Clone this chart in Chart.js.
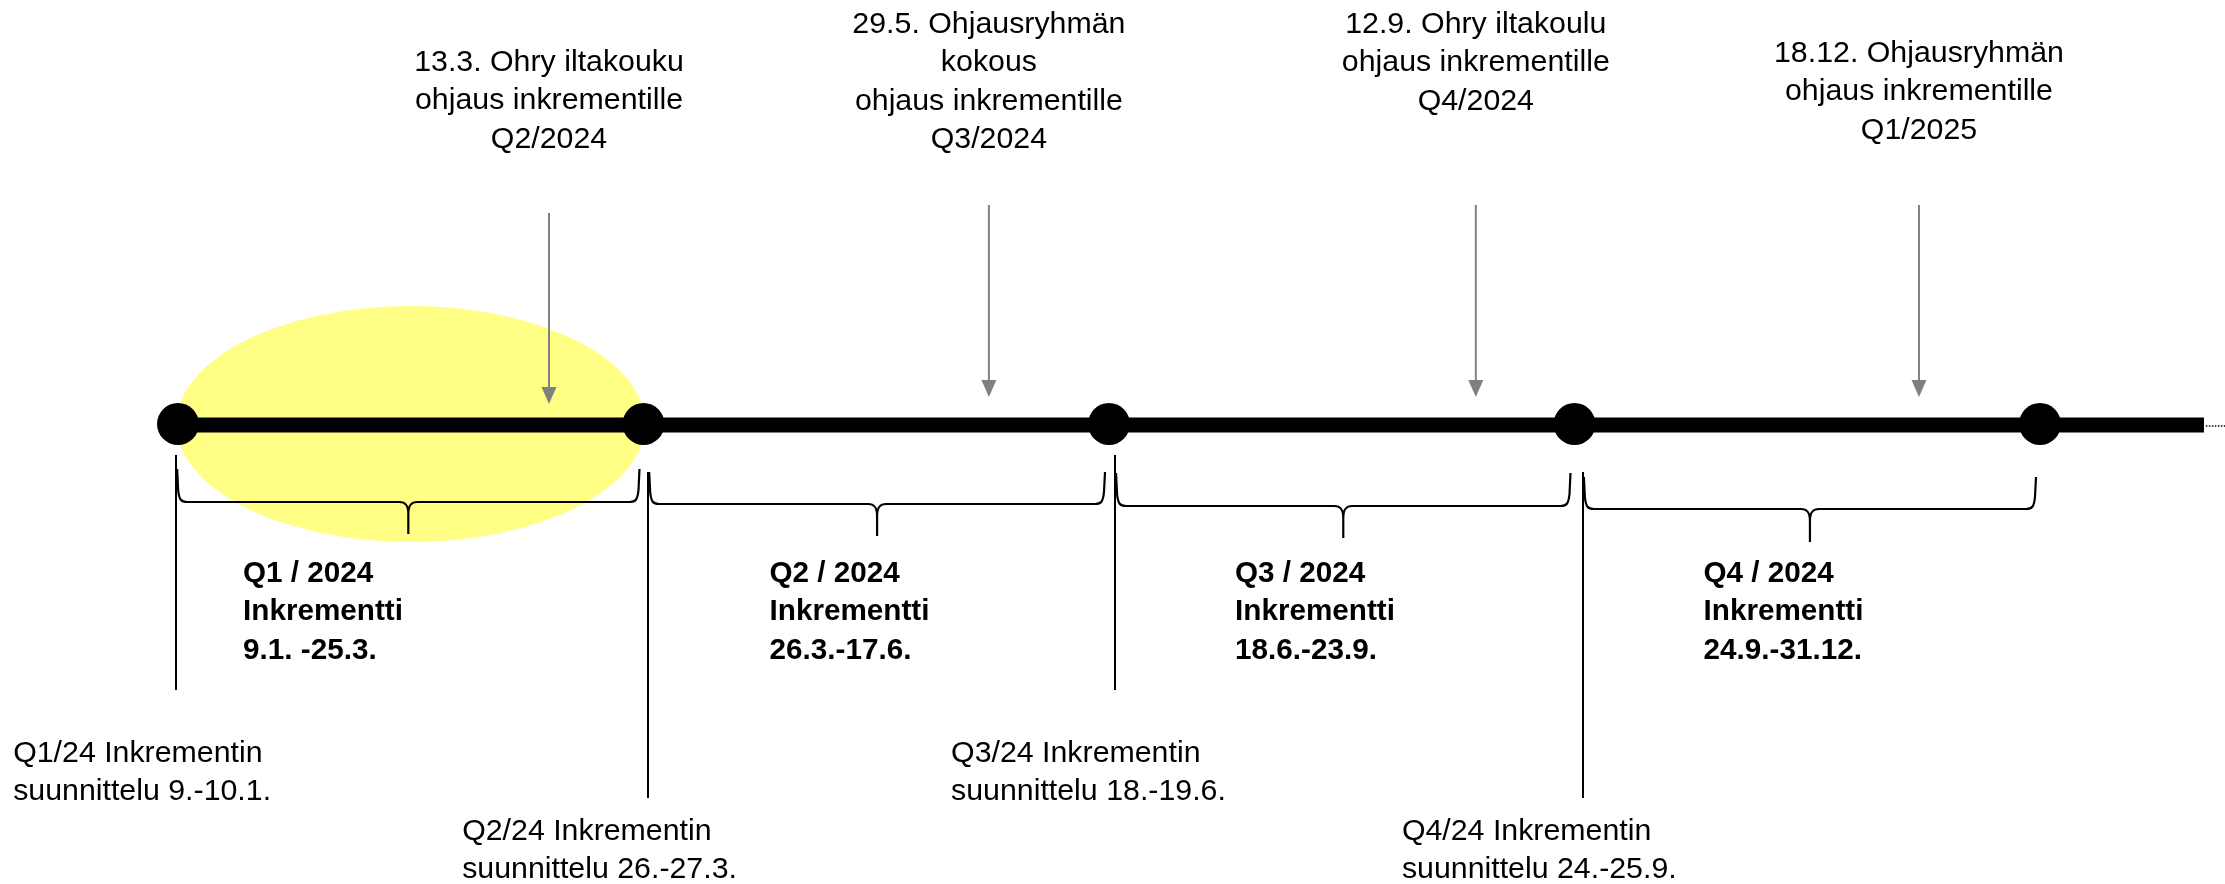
<!DOCTYPE html>
<html>
<head>
<meta charset="utf-8">
<script src="https://cdn.jsdelivr.net/npm/chart.js@4.4.1/dist/chart.umd.min.js"></script>
<style>
  html, body { margin: 0; padding: 0; background: #fff; }
  #wrap { width: 2225px; height: 884px; }
</style>
</head>
<body>
<div id="wrap"><canvas id="timeline" width="2225" height="884"></canvas></div>
<script>
// --- data: timeline in quarter units (0 = start of Q1/2024) ---
const milestoneQ = [0, 1, 2, 3, 4];
const increments = ['Q1 / 2024', 'Q2 / 2024', 'Q3 / 2024', 'Q4 / 2024'];
const incrementWord = 'Inkrementti';
const incrementDates = ['9.1. -25.3.', '26.3.-17.6.', '18.6.-23.9.', '24.9.-31.12.'];
const highlightIndex = 0; // current increment

const steeringQ = [0.797, 1.742, 2.788, 3.740];
const steeringLabels = [
    ['13.3. Ohry iltakouku', 'ohjaus inkrementille', 'Q2/2024'],
    ['29.5. Ohjausryhmän', 'kokous', 'ohjaus inkrementille', 'Q3/2024'],
    ['12.9. Ohry iltakoulu', 'ohjaus inkrementille', 'Q4/2024'],
    ['18.12. Ohjausryhmän', 'ohjaus inkrementille', 'Q1/2025']
];

const planningQ = [-0.004, 1.010, 2.013, 3.018];
const planningLabels = [
    ['Q1/24 Inkrementin', 'suunnittelu 9.-10.1.'],
    ['Q2/24 Inkrementin', 'suunnittelu 26.-27.3.'],
    ['Q3/24 Inkrementin', 'suunnittelu 18.-19.6.'],
    ['Q4/24 Inkrementin', 'suunnittelu 24.-25.9.']
];

// --- layout (pixels) ---
const W = 2225, H = 884;
const X0 = 178, STEP = 465.5;          // pixel of q=0 and width of one quarter
const LINE_Y = 425;
const LINE_END = 2204;
const FONT_FAMILY = "'Liberation Sans Narrow', 'Liberation Sans', sans-serif";
const FONT_SIZE = 30;
const LH = 38.3;
const steerTextY = [71, 33, 33, 62];
const arrowTop = [213, 205, 205, 205];
const arrowTip = [404, 397, 397, 397];
const braceTop = [469, 472, 473, 477];
const braceMid = [502, 504, 506, 509];
const braceTip = [534, 536, 538, 542];
const markerTop = [455, 472, 455, 472];
const markerBottom = [690, 798, 690, 798];
const planTextY = [762, 840, 762, 840];
const planTextDx = [-163, -186, -164, -181];
const boldTextDx = [65, 126, 126, 129];
const boldTextY = 582;

function drawText(ctx, text, x, y, align, bold, sx) {
    ctx.save();
    ctx.font = (bold ? 'bold ' : '') + FONT_SIZE + 'px ' + FONT_FAMILY;
    ctx.translate(x, y);
    ctx.scale(sx, 1);
    ctx.textAlign = align;
    ctx.textBaseline = 'alphabetic';
    ctx.fillStyle = '#000';
    ctx.fillText(text, 0, 0);
    ctx.restore();
}

function widthScale(ctx, text, bold, target) {
    ctx.save();
    ctx.font = (bold ? 'bold ' : '') + FONT_SIZE + 'px ' + FONT_FAMILY;
    const w = ctx.measureText(text).width;
    ctx.restore();
    return target / w;
}

function drawBrace(ctx, x0, x1, top, mid, tip) {
    const xm = (x0 + x1) / 2;
    ctx.beginPath();
    ctx.moveTo(x0, top);
    ctx.lineTo(x0 + 1, mid - 12);
    ctx.bezierCurveTo(x0 + 2, mid - 2, x0 + 4, mid, x0 + 10, mid);
    ctx.lineTo(xm - 9, mid);
    ctx.bezierCurveTo(xm - 3, mid, xm, mid + 3, xm, mid + 12);
    ctx.lineTo(xm, tip);
    ctx.moveTo(xm, mid + 12);
    ctx.bezierCurveTo(xm, mid + 3, xm + 3, mid, xm + 9, mid);
    ctx.lineTo(x1 - 10, mid);
    ctx.bezierCurveTo(x1 - 4, mid, x1 - 2, mid - 2, x1 - 1, mid - 12);
    ctx.lineTo(x1, top);
    ctx.stroke();
}

const highlightPlugin = {
    id: 'highlight',
    beforeDatasetsDraw(chart) {
        const ctx = chart.ctx;
        const xs = chart.scales.x, ys = chart.scales.y;
        const a = xs.getPixelForValue(milestoneQ[highlightIndex]);
        const b = xs.getPixelForValue(milestoneQ[highlightIndex + 1]);
        ctx.save();
        ctx.fillStyle = '#FFFF85';
        ctx.beginPath();
        ctx.ellipse((a + b) / 2, ys.getPixelForValue(LINE_Y - 1), (b - a) / 2 + 1.5, 118, 0, 0, Math.PI * 2);
        ctx.fill();
        ctx.restore();
    },
    afterDatasetsDraw(chart) {
        const ctx = chart.ctx;
        const xs = chart.scales.x, ys = chart.scales.y;
        ctx.save();

        // steering arrows
        ctx.strokeStyle = '#808080';
        ctx.fillStyle = '#808080';
        ctx.lineWidth = 2;
        steeringQ.forEach((q, i) => {
            const x = xs.getPixelForValue(q);
            const t = ys.getPixelForValue(arrowTop[i]);
            const p = ys.getPixelForValue(arrowTip[i]);
            ctx.beginPath();
            ctx.moveTo(x, t);
            ctx.lineTo(x, p - 14);
            ctx.stroke();
            ctx.beginPath();
            ctx.moveTo(x - 7.5, p - 17);
            ctx.lineTo(x + 7.5, p - 17);
            ctx.lineTo(x, p);
            ctx.closePath();
            ctx.fill();
        });

        // planning markers
        ctx.strokeStyle = '#000';
        ctx.lineWidth = 2;
        planningQ.forEach((q, i) => {
            const x = Math.round(xs.getPixelForValue(q));
            ctx.beginPath();
            ctx.moveTo(x, ys.getPixelForValue(markerTop[i]));
            ctx.lineTo(x, ys.getPixelForValue(markerBottom[i]));
            ctx.stroke();
        });

        // braces per increment
        ctx.lineWidth = 2.2;
        increments.forEach((_, i) => {
            const x0 = xs.getPixelForValue(planningQ[i]) + 1;
            const x1 = xs.getPixelForValue(milestoneQ[i + 1]) - 4;
            drawBrace(ctx, x0, x1, ys.getPixelForValue(braceTop[i]),
                ys.getPixelForValue(braceMid[i]), ys.getPixelForValue(braceTip[i]));
        });

        const sxR = widthScale(ctx, 'ohjaus inkrementille', false, 268);
        const sxB = widthScale(ctx, 'Inkrementti', true, 160);

        // steering labels
        steeringLabels.forEach((lines, i) => {
            const x = xs.getPixelForValue(steeringQ[i]);
            lines.forEach((t, k) => drawText(ctx, t, x, steerTextY[i] + k * LH, 'center', false, sxR));
        });

        // increment labels
        increments.forEach((name, i) => {
            const x = xs.getPixelForValue(milestoneQ[i]) + boldTextDx[i];
            [name, incrementWord, incrementDates[i]].forEach((t, k) =>
                drawText(ctx, t, x, boldTextY + k * LH, 'left', true, sxB));
        });

        // planning labels
        planningLabels.forEach((lines, i) => {
            const x = xs.getPixelForValue(planningQ[i]) + planTextDx[i];
            lines.forEach((t, k) => drawText(ctx, t, x, planTextY[i] + k * LH, 'left', false, sxR));
        });

        ctx.restore();
    }
};

const qMin = -X0 / STEP;
const qMax = (W - X0) / STEP;
const qLineEnd = (LINE_END - X0) / STEP;

const ctx = document.getElementById('timeline').getContext('2d');
const chart = new Chart(ctx, {
    type: 'scatter',
    data: {
        datasets: [
            {
                // main bar of the timeline
                data: [{ x: milestoneQ[0], y: LINE_Y }, { x: qLineEnd, y: LINE_Y }],
                showLine: true,
                borderColor: '#000',
                borderWidth: 15,
                pointRadius: 0,
                order: 3
            },
            {
                // dotted continuation
                data: [{ x: qLineEnd + 0.004, y: LINE_Y + 1 }, { x: qMax, y: LINE_Y + 1 }],
                showLine: true,
                borderColor: '#000',
                borderWidth: 1.5,
                borderDash: [1.5, 1.5],
                pointRadius: 0,
                order: 2
            },
            {
                // milestones
                data: milestoneQ.map(q => ({ x: q, y: LINE_Y - 1 })),
                backgroundColor: '#000',
                borderColor: '#000',
                borderWidth: 0,
                pointRadius: 21,
                pointHoverRadius: 21,
                order: 1
            }
        ]
    },
    options: {
        responsive: false,
        animation: false,
        events: [],
        layout: { padding: 0, autoPadding: false },
        plugins: { legend: { display: false }, tooltip: { enabled: false } },
        scales: {
            x: { type: 'linear', min: qMin, max: qMax, display: false },
            y: { type: 'linear', min: 0, max: H, reverse: true, display: false }
        }
    },
    plugins: [highlightPlugin]
});
</script>
</body>
</html>
